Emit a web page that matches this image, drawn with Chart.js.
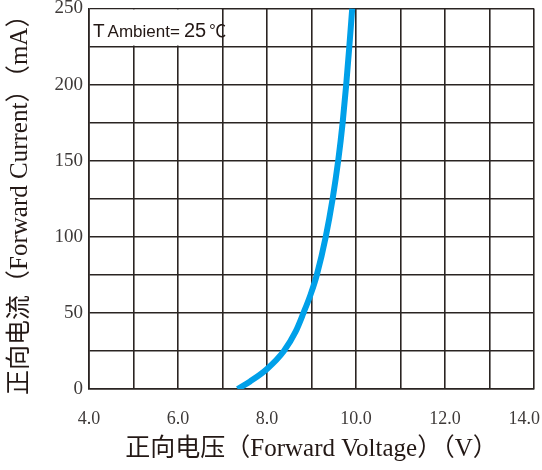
<!DOCTYPE html>
<html>
<head>
<meta charset="utf-8">
<script src="https://cdn.jsdelivr.net/npm/chart.js@4"></script>
<style>
  html, body { margin: 0; padding: 0; background: #ffffff; }
  #wrap { width: 542px; height: 470px; }
</style>
</head>
<body>
<div id="wrap"><canvas id="c" width="542" height="470"></canvas></div>
<script>
// ---- data ----
const voltage = [7.34, 7.62, 8.0, 8.38, 8.64, 8.82, 8.985, 9.12, 9.32, 9.475, 9.60, 9.70, 9.78, 9.85, 9.915];
const current = [0, 5, 13.2, 25, 37.5, 50, 62.5, 75, 100, 125, 150, 175, 200, 225, 250];

const xTickValues = [4, 6, 8, 10, 12, 14];
const xTickLabels = ['4.0', '6.0', '8.0', '10.0', '12.0', '14.0'];
const yTickValues = [0, 50, 100, 150, 200, 250];
const yTickLabels = ['0', '50', '100', '150', '200', '250'];

const xTitle = '正向电压（Forward Voltage）（V）';
const yTitle = '正向电流（Forward Current）（mA）';
const noteParts = ['T', 'Ambient=', '25', '℃'];

const gridColor = '#2a2422';
const textColor = '#3e3a39';
const serif = '"Liberation Serif", "Noto Sans CJK SC", serif';

const noteBox = {
  id: 'noteBox',
  beforeDatasetsDraw(chart) {
    const xs = chart.scales.x, ys = chart.scales.y, ctx = chart.ctx;
    const x0 = xs.getPixelForValue(4), x1 = xs.getPixelForValue(7);
    const y0 = ys.getPixelForValue(250), y1 = ys.getPixelForValue(225);
    ctx.save();
    ctx.fillStyle = '#ffffff';
    ctx.fillRect(x0 + 1, y0 + 1, x1 - x0 - 2, y1 - y0 - 2);
    ctx.fillStyle = '#231815';
    ctx.textBaseline = 'alphabetic';
    ctx.textAlign = 'left';
    const fonts = ['19px "Liberation Sans", Arial, sans-serif',
                   '17px "Liberation Sans", Arial, sans-serif',
                   '20px "Liberation Sans", Arial, sans-serif',
                   '17px "Noto Sans CJK SC", "DejaVu Sans", sans-serif'];
    const gaps = [3, 4, 3, 0];
    let x = x0 + 4;
    const base = y0 + 28.5;
    noteParts.forEach((t, i) => {
      ctx.font = fonts[i];
      ctx.fillText(t, x, base);
      x += ctx.measureText(t).width + gaps[i];
    });
    ctx.restore();
  }
};

const lastLabelFix = {
  id: 'lastLabelFix',
  beforeDraw(chart) {
    const xs = chart.scales.x;
    const items = xs.getLabelItems();
    items.forEach(it => {
      if (it.label === xTickLabels[xTickLabels.length - 1]) {
        it.options.textAlign = 'right';
        it.options.translation = [chart.width - 2, it.options.translation[1]];
      }
    });
  }
};

new Chart(document.getElementById('c'), {
  type: 'line',
  data: {
    datasets: [{
      data: voltage.map((v, i) => ({ x: v, y: current[i] })),
      borderColor: '#00a0e9',
      borderWidth: 6,
      pointRadius: 0,
      fill: false,
      cubicInterpolationMode: 'monotone'
    }]
  },
  options: {
    responsive: false,
    animation: false,
    devicePixelRatio: 1,
    layout: { padding: { left: 0, right: 8, top: 8.5, bottom: 0 } },
    plugins: { legend: { display: false }, tooltip: { enabled: false } },
    scales: {
      x: {
        type: 'linear', min: 4, max: 14,
        grid: { color: gridColor, lineWidth: 1.6, drawTicks: false },
        border: { display: true, color: gridColor, width: 1.6 },
        ticks: {
          stepSize: 1, autoSkip: false, maxRotation: 0, padding: 19,
          color: textColor, font: { family: serif, size: 18 },
          callback: (v) => { const i = xTickValues.indexOf(v); return i >= 0 ? xTickLabels[i] : ''; }
        },
        title: {
          display: true, text: xTitle, color: '#231815',
          font: { family: serif, size: 25 }, padding: { top: 0, bottom: 6 }
        },
        afterFit(s) { s.height = 81; s.paddingLeft = 0; s.paddingRight = 0; }
      },
      y: {
        type: 'linear', min: 0, max: 250,
        grid: { color: gridColor, lineWidth: 1.6, drawTicks: false },
        border: { display: true, color: gridColor, width: 1.6 },
        ticks: {
          stepSize: 25, autoSkip: false, padding: 6,
          color: textColor, font: { family: serif, size: 19 },
          callback: (v) => { const i = yTickValues.indexOf(v); return i >= 0 ? yTickLabels[i] : ''; }
        },
        title: {
          display: true, text: yTitle, color: '#231815',
          font: { family: serif, size: 25 }, padding: { top: 5, bottom: 0 }
        },
        afterFit(s) { s.width = 89; s.paddingTop = 0; s.paddingBottom = 0; }
      }
    }
  },
  plugins: [noteBox, lastLabelFix]
});
</script>
</body>
</html>
